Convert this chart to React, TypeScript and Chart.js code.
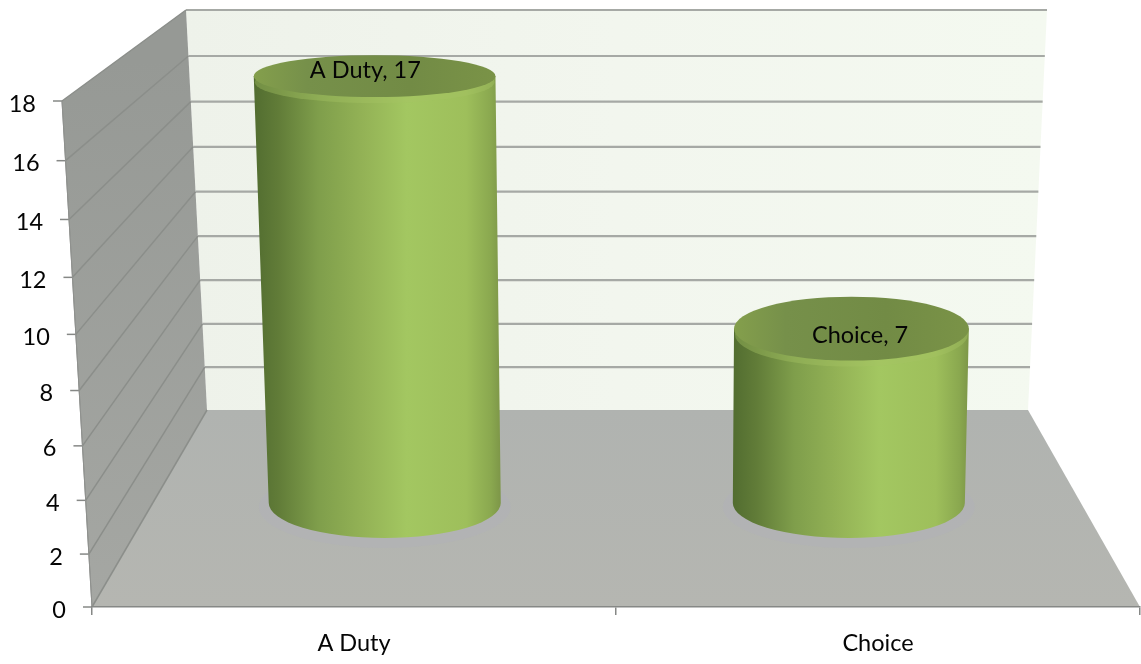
import React, { useEffect, useRef } from "react";
import { Chart, registerables } from "chart.js";

Chart.register(...registerables);

const categories = ["A Duty", "Choice"];
const responses = [17, 7];
const yMax = 18;
const yStep = 2;

const FONT = "23.5px Lato";
const INK = "#050505";

const lerp = (a: number, b: number, d: number) => a + (b - a) * d;
// Mild perspective along the vertical axis: spacing widens towards the top.
const warp = (t: number, k: number) => t / (1 + k * (1 - t));

// Maps a point on the flat scale plane into the box, d = 0 at the front edge, d = 1 at the back wall.
function project(chart: any, px: number, py: number, d: number) {
  const a = chart.chartArea;
  const u = (px - a.left) / (a.right - a.left);
  const t = (a.bottom - py) / (a.bottom - a.top);
  const ft = warp(t, 0.07);
  const bt = warp(t, 0.04);
  const frontY = a.bottom - (a.bottom - a.top) * ft;
  const backY = 410 - 400 * bt;
  const frontL = a.left - 30 * ft;
  const frontR = a.right + 30 * ft;
  const backL = 207 - 21 * bt;
  const backR = 1028 + 19 * bt;
  const left = lerp(frontL, backL, d);
  const right = lerp(frontR, backR, d);
  return { x: left + u * (right - left), y: lerp(frontY, backY, d), gap: frontY - backY };
}

function polygon(ctx: CanvasRenderingContext2D, pts: { x: number; y: number }[]) {
  ctx.beginPath();
  pts.forEach((p, i) => (i ? ctx.lineTo(p.x, p.y) : ctx.moveTo(p.x, p.y)));
  ctx.closePath();
}

// Back wall, side wall, floor, their gridlines and the slanted value axis.
const roomPlugin = {
  id: "room",
  beforeDraw(chart: any) {
    const { ctx, chartArea: a, scales } = chart;
    const y = scales.y;
    const p = (px: number, py: number, d: number) => project(chart, px, py, d);

    ctx.save();
    const wall = ctx.createLinearGradient(186, 0, 1047, 0);
    wall.addColorStop(0, "#eef2ea");
    wall.addColorStop(0.5, "#f2f6ee");
    wall.addColorStop(1, "#f4f9f0");
    ctx.fillStyle = wall;
    polygon(ctx, [p(a.left, a.top, 1), p(a.right, a.top, 1), p(a.right, a.bottom, 1), p(a.left, a.bottom, 1)]);
    ctx.fill();

    const side = ctx.createLinearGradient(0, 60, 0, 607);
    side.addColorStop(0, "#969995");
    side.addColorStop(1, "#a5a7a3");
    ctx.fillStyle = side;
    polygon(ctx, [p(a.left, a.top, 0), p(a.left, a.top, 1), p(a.left, a.bottom, 1), p(a.left, a.bottom, 0)]);
    ctx.fill();

    const floor = ctx.createLinearGradient(0, 410, 0, 607);
    floor.addColorStop(0, "#b0b3b0");
    floor.addColorStop(1, "#b5b6b1");
    ctx.fillStyle = floor;
    polygon(ctx, [p(a.left, a.bottom, 0), p(a.right, a.bottom, 0), p(a.right, a.bottom, 1), p(a.left, a.bottom, 1)]);
    ctx.fill();

    for (const tick of y.ticks) {
      const py = y.getPixelForValue(tick.value);
      const front = p(a.left, py, 0);
      const corner = p(a.left, py, 1);
      const far = p(a.right, py, 1);

      if (tick.value > 0) {
        ctx.strokeStyle = "#a6a9a5";
        ctx.lineWidth = 2.2;
        ctx.beginPath();
        ctx.moveTo(corner.x, corner.y);
        ctx.lineTo(far.x, far.y);
        ctx.stroke();
      }

      ctx.strokeStyle = "#8b8e8a";
      ctx.lineWidth = 1.5;
      ctx.beginPath();
      ctx.moveTo(front.x, front.y);
      ctx.lineTo(corner.x, corner.y);
      ctx.stroke();

      ctx.strokeStyle = "#868886";
      ctx.lineWidth = 1.5;
      ctx.beginPath();
      ctx.moveTo(front.x - 9, front.y);
      ctx.lineTo(front.x, front.y);
      ctx.stroke();

      ctx.fillStyle = INK;
      ctx.font = FONT;
      ctx.textAlign = "right";
      ctx.textBaseline = "middle";
      ctx.fillText(String(tick.value), front.x - 26, front.y + 3);
    }

    // Front-left edge of the side wall.
    ctx.strokeStyle = "#8f918e";
    ctx.lineWidth = 1;
    polygon(ctx, [p(a.left, a.bottom, 0), p(a.left, a.top, 0)]);
    ctx.stroke();
    ctx.restore();
  },
};

const BASE_DEPTH = 0.528;
const TOP_DEPTH = 0.56;
const LABEL_DEPTH = 0.41;
const LABEL_RAISE = [-9, 2];

// Height of an end ellipse, from the front-to-back span of the box at that level.
const ellipseRy = (gap: number) => 21 + 0.177 * (gap - 98) - 0.00097 * (gap - 98) * (gap - 160);

// Draws each bar element as a shaded cylinder standing on the floor.
const cylinderPlugin = {
  id: "cylinders",
  beforeDatasetDraw(chart: any, args: any) {
    const { ctx } = chart;
    const meta = chart.getDatasetMeta(args.index);
    ctx.save();
    meta.data.forEach((bar: any) => {
      const { x, y, base, width } = bar.getProps(["x", "y", "base", "width"], true);
      const topC = project(chart, x, y, TOP_DEPTH);
      const topL = project(chart, x - width / 2, y, TOP_DEPTH);
      const topR = project(chart, x + width / 2, y, TOP_DEPTH);
      const baseC = project(chart, x, base, BASE_DEPTH);
      const baseL = project(chart, x - width / 2, base, BASE_DEPTH);
      const baseR = project(chart, x + width / 2, base, BASE_DEPTH);
      const topRx = (topR.x - topL.x) / 2;
      const baseRx = (baseR.x - baseL.x) / 2;
      const topRy = ellipseRy(topC.gap);
      const baseRy = ellipseRy(baseC.gap);

      // Faint cool halo on the floor around the foot.
      ctx.fillStyle = "rgba(176,176,190,0.3)";
      ctx.beginPath();
      ctx.ellipse(baseC.x, baseC.y + 4, baseRx + 10, baseRy + 6, 0, 0, Math.PI * 2);
      ctx.fill();

      const minX = Math.min(topL.x, baseL.x);
      const maxX = Math.max(topR.x, baseR.x);
      const body = ctx.createLinearGradient(minX, 0, maxX, 0);
      body.addColorStop(0, "#526d30");
      body.addColorStop(0.1, "#617c38");
      body.addColorStop(0.26, "#7f9e4b");
      body.addColorStop(0.45, "#94b356");
      body.addColorStop(0.62, "#a3c761");
      body.addColorStop(0.86, "#9ebf5b");
      body.addColorStop(0.96, "#8aa84f");
      body.addColorStop(1, "#7d9648");
      ctx.fillStyle = body;
      ctx.beginPath();
      ctx.moveTo(topL.x, topC.y);
      ctx.lineTo(baseL.x, baseC.y);
      ctx.ellipse(baseC.x, baseC.y, baseRx, baseRy, 0, Math.PI, 0, true);
      ctx.lineTo(topR.x, topC.y);
      ctx.closePath();
      ctx.fill();

      // Soft lit band just under the rim of the cap.
      ctx.fillStyle = "rgba(165,195,100,0.4)";
      ctx.beginPath();
      ctx.ellipse(topC.x, topC.y + 6, topRx - 1, topRy, 0, 0, Math.PI * 2);
      ctx.fill();

      const cap = ctx.createLinearGradient(topL.x, 0, topR.x, 0);
      cap.addColorStop(0, "#849f4c");
      cap.addColorStop(0.22, "#76904a");
      cap.addColorStop(0.65, "#728b45");
      cap.addColorStop(1, "#7a9347");
      ctx.fillStyle = cap;
      ctx.beginPath();
      ctx.ellipse(topC.x, topC.y, topRx, topRy, 0, 0, Math.PI * 2);
      ctx.fill();
    });
    ctx.restore();
    return false;
  },
  afterDatasetsDraw(chart: any) {
    const { ctx } = chart;
    const meta = chart.getDatasetMeta(0);
    ctx.save();
    ctx.font = FONT;
    ctx.fillStyle = INK;
    ctx.textAlign = "center";
    ctx.textBaseline = "middle";
    meta.data.forEach((bar: any, i: number) => {
      const { x, y } = bar.getProps(["x", "y"], true);
      const anchor = project(chart, x, y, LABEL_DEPTH);
      const level = project(chart, x, y, BASE_DEPTH);
      ctx.fillText(`${categories[i]}, ${responses[i]}`, anchor.x, level.y + LABEL_RAISE[i]);
    });
    ctx.restore();
  },
};

export default function App() {
  const ref = useRef<HTMLCanvasElement | null>(null);

  useEffect(() => {
    const chart = new Chart(ref.current as HTMLCanvasElement, {
      type: "bar",
      data: {
        labels: categories,
        datasets: [
          {
            label: "Responses",
            data: responses,
            backgroundColor: "#9dbf5a",
            barPercentage: 0.5,
            categoryPercentage: 1,
          },
        ],
      },
      options: {
        responsive: false,
        animation: false,
        layout: { padding: { left: 92, top: 101, right: 1, bottom: 0 } },
        plugins: { legend: { display: false }, tooltip: { enabled: false }, title: { display: false } },
        scales: {
          x: {
            grid: { drawOnChartArea: false, drawTicks: true, tickLength: 8, color: "#868886", lineWidth: 1.5 },
            border: { color: "#868886", width: 1.5 },
            ticks: { color: INK, font: { family: "Lato", size: 23.5 }, padding: 14, maxRotation: 0 },
            afterFit: (s: any) => {
              s.height = 57;
            },
          },
          y: {
            display: false,
            min: 0,
            max: yMax,
            ticks: { stepSize: yStep },
          },
        },
      },
      plugins: [roomPlugin, cylinderPlugin],
    } as any);
    return () => chart.destroy();
  }, []);

  return (
    <canvas
      ref={ref}
      width={1141}
      height={664}
      style={{ position: "fixed", left: 0, top: 0, display: "block", background: "#fff" }}
    />
  );
}
